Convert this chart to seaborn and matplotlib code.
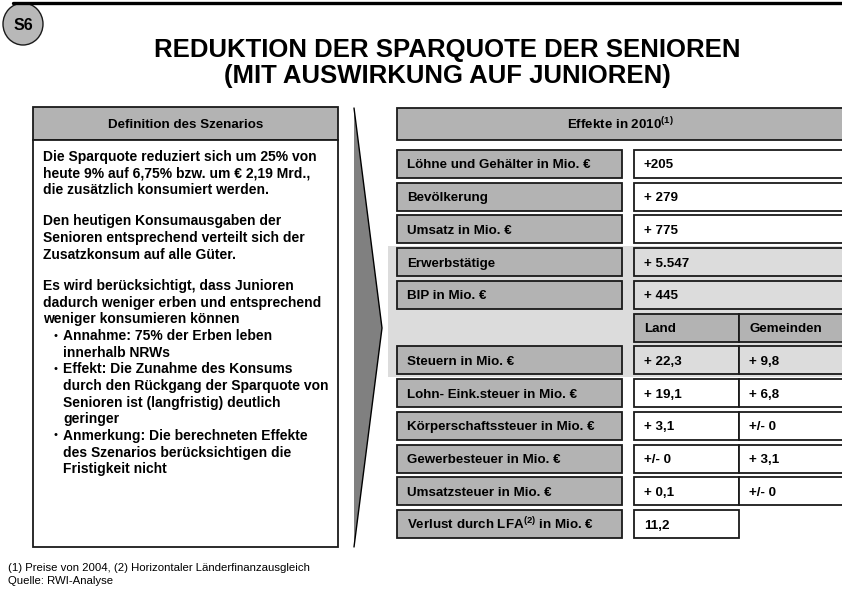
import matplotlib
matplotlib.use('Agg')
import matplotlib.pyplot as plt
import seaborn as sns
from matplotlib.patches import Rectangle, Polygon, Ellipse

sns.set_style('white')
plt.rcParams['font.family'] = ['Liberation Sans', 'DejaVu Sans']
plt.rcParams['text.color'] = 'black'
plt.rcParams['mathtext.fontset'] = 'custom'
plt.rcParams['mathtext.rm'] = 'Liberation Sans'
plt.rcParams['mathtext.bf'] = 'Liberation Sans:bold'
plt.rcParams['mathtext.default'] = 'bf'

# Slide content
badge = 'S6'
title_lines = ['REDUKTION DER SPARQUOTE DER SENIOREN', '(MIT AUSWIRKUNG AUF JUNIOREN)']
scenario_header = 'Definition des Szenarios'
scenario_paragraphs = [
    ['Die Sparquote reduziert sich um 25% von',
     'heute 9% auf 6,75% bzw. um € 2,19 Mrd.,',
     'die zusätzlich konsumiert werden.'],
    ['Den heutigen Konsumausgaben der',
     'Senioren entsprechend verteilt sich der',
     'Zusatzkonsum auf alle Güter.'],
    ['Es wird berücksichtigt, dass Junioren',
     'dadurch weniger erben und entsprechend',
     'weniger konsumieren können'],
]
scenario_bullets = [
    ['Annahme: 75% der Erben leben', 'innerhalb NRWs'],
    ['Effekt: Die Zunahme des Konsums', 'durch den Rückgang der Sparquote von',
     'Senioren ist (langfristig) deutlich', 'geringer'],
    ['Anmerkung: Die berechneten Effekte', 'des Szenarios berücksichtigen die',
     'Fristigkeit nicht'],
]
effects_header = r'Effekte in 2010$^{(1)}$'
overall_labels = ['Löhne und Gehälter in Mio. €', 'Bevölkerung', 'Umsatz in Mio. €',
                  'Erwerbstätige', 'BIP in Mio. €']
overall_values = ['+205', '+ 279', '+ 775', '+ 5.547', '+ 445']
tax_columns = ['Land', 'Gemeinden']
tax_labels = ['Steuern in Mio. €', 'Lohn- Eink.steuer in Mio. €',
              'Körperschaftssteuer in Mio. €', 'Gewerbesteuer in Mio. €',
              'Umsatzsteuer in Mio. €']
tax_land = ['+ 22,3', '+ 19,1', '+ 3,1', '+/- 0', '+ 0,1']
tax_gemeinden = ['+ 9,8', '+ 6,8', '+/- 0', '+ 3,1', '+/- 0']
lfa_label = r'Verlust durch LFA$^{(2)}$ in Mio. €'
lfa_value = '11,2'
footnotes = ['(1) Preise von 2004, (2) Horizontaler Länderfinanzausgleich',
             'Quelle: RWI-Analyse']

# colours
dark_gray = '#b3b3b3'
light_gray = '#dcdcdc'
arrow_gray = '#808080'
edge = '#1a1a1a'
fs = 9.6  # table text size

fig = plt.figure(figsize=(8.42, 5.89), dpi=100)
ax = fig.add_axes([0, 0, 1, 1])
ax.set_xlim(0, 842)
ax.set_ylim(589, 0)
ax.axis('off')


def box(x, y, w, h, fc, lw=1.3, z=2):
    ax.add_patch(Rectangle((x, y), w, h, facecolor=fc, edgecolor=edge, linewidth=lw, zorder=z))


# header line, badge, title
ax.plot([13, 842], [3, 3], color='black', linewidth=2.4, zorder=5)
ax.add_patch(Ellipse((23, 24), 40, 42, facecolor='#b8b8b8', edgecolor=edge, linewidth=1.0, zorder=4))
ax.text(23, 25, badge, ha='center', va='center', fontsize=11.5, fontweight='bold', zorder=6)
for i, line in enumerate(title_lines):
    ax.text(447, 47 + i * 26, line, ha='center', va='center_baseline',
            fontsize=18.5, fontweight='bold')

# left panel
box(33, 107, 305, 33, dark_gray)
ax.text(186, 124, scenario_header, ha='center', va='center_baseline', fontsize=fs,
        fontweight='bold', zorder=3)
box(33, 140, 305, 407, 'white')
pitch = 16.65
gap = 14.85
y = 155
for para in scenario_paragraphs:
    for line in para:
        ax.text(43, y, line, va='center_baseline', fontsize=10, fontweight='bold', zorder=3)
        y += pitch
    y += gap
y -= gap
for item in scenario_bullets:
    ax.text(53, y, '•', va='center_baseline', fontsize=8, zorder=3)
    for line in item:
        ax.text(63, y, line, va='center_baseline', fontsize=10, fontweight='bold', zorder=3)
        y += pitch

# chevron
ax.add_patch(Polygon([(354, 108), (382, 328), (354, 547)], closed=True,
                     facecolor=arrow_gray, edgecolor='none', zorder=2))
ax.plot([354, 382, 354], [108, 328, 547], color='black', linewidth=1.0, zorder=3)

# right panel
ax.add_patch(Rectangle((388, 246), 460, 131, facecolor=light_gray, edgecolor='none', zorder=1))
box(397, 108, 450, 32, dark_gray)
ax.text(620, 122.5, effects_header, ha='center', va='center_baseline', fontsize=fs,
        fontweight='bold', zorder=3)

row_top = 150
row_pitch = 32.73
row_h = 28
lab_x, lab_w = 397, 225
val_x, col_w = 634, 105
val_full = 215
shaded = {'Erwerbstätige', 'BIP in Mio. €'}


def cell_text(x, yt, s, dy=0.0):
    ax.text(x + 10, yt + row_h / 2 + dy, s, va='center_baseline', fontsize=fs,
            fontweight='bold', zorder=3)


r = 0
for lab, val in zip(overall_labels, overall_values):
    yt = row_top + r * row_pitch
    box(lab_x, yt, lab_w, row_h, dark_gray)
    cell_text(lab_x, yt, lab)
    box(val_x, yt, val_full, row_h, light_gray if lab in shaded else 'white')
    cell_text(val_x, yt, val)
    r += 1

yt = row_top + r * row_pitch
for j, col in enumerate(tax_columns):
    box(val_x + j * col_w, yt, col_w if j == 0 else val_full - col_w, row_h, dark_gray)
    cell_text(val_x + j * col_w, yt, col)
r += 1

for k, (lab, v1, v2) in enumerate(zip(tax_labels, tax_land, tax_gemeinden)):
    yt = row_top + r * row_pitch
    fc = light_gray if k == 0 else 'white'
    box(lab_x, yt, lab_w, row_h, dark_gray)
    cell_text(lab_x, yt, lab)
    box(val_x, yt, col_w, row_h, fc)
    box(val_x + col_w, yt, val_full - col_w, row_h, fc)
    cell_text(val_x, yt, v1)
    cell_text(val_x + col_w, yt, v2)
    r += 1

yt = row_top + r * row_pitch
box(lab_x, yt, lab_w, row_h, dark_gray)
cell_text(lab_x, yt, lfa_label, dy=-1.5)
box(val_x, yt, col_w, row_h, 'white')
cell_text(val_x, yt, lfa_value)

# footnotes
for i, line in enumerate(footnotes):
    ax.text(8, 567 + i * 13, line, va='center_baseline', fontsize=8.2)

fig.savefig('out.png', dpi=100)
